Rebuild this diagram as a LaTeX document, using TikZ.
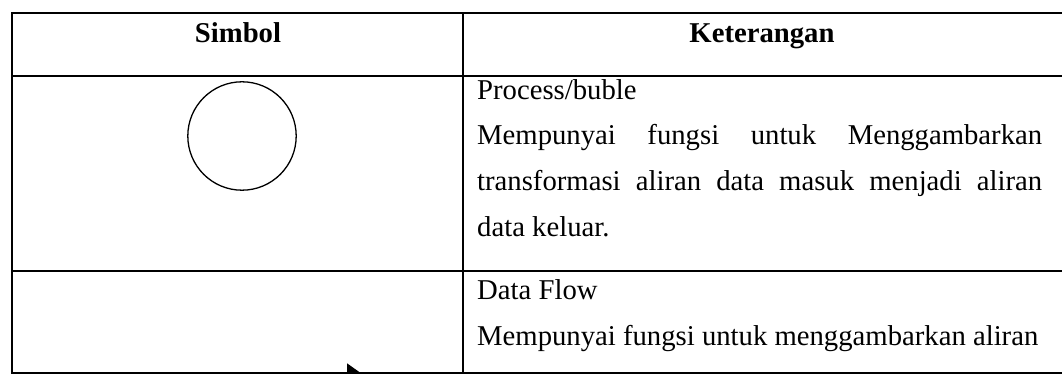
\documentclass[tikz,border=0pt]{standalone}
\usepackage{fontspec}
\setmainfont{Liberation Serif}
\usetikzlibrary{arrows.meta}
\tikzset{
  rule/.style={line width=1.8pt, line cap=rect},
  txt/.style={anchor=base west, inner sep=0pt, font=\fontsize{28.7}{46}\selectfont},
  head/.style={anchor=base, inner sep=0pt, font=\fontsize{28.7}{46}\selectfont\bfseries},
  sym/.style={draw, line width=1.3pt, circle, inner sep=0pt, minimum size=108.4pt},
  flow/.style={line width=1.8pt, -{Triangle[length=13pt,width=18pt]}}
}
\newcommand{\jline}[1]{\makebox[565pt][s]{#1}}
\begin{document}
\begin{tikzpicture}[x=1pt,y=1pt]
\useasboundingbox (0,0) rectangle (1062,-374);
% table rules
\draw[rule] (12,-13) -- (1064,-13);
\draw[rule] (12,-76) -- (1064,-76);
\draw[rule] (12,-270.7) -- (1064,-270.7);
\draw[rule] (12,-372.7) -- (1064,-372.7);
\draw[rule] (12,-13) -- (12,-372.7);
\draw[rule] (463,-13) -- (463,-372.7);
% header
\node[head] (h1) at (238,-43) {Simbol};
\node[head] (h2) at (762,-43) {Keterangan};
% row 1
\node[sym] (proc) at (242,-136) {};
\node[txt] (a1) at (477,-99.5) {Process/buble};
\node[txt] (a2) at (477,-145) {\jline{Mempunyai fungsi untuk Menggambarkan}};
\node[txt] (a3) at (477,-190.5) {\jline{transformasi aliran data masuk menjadi aliran}};
\node[txt] (a4) at (477,-236) {data keluar.};
% row 2
\coordinate (fs) at (111,-372.5);
\coordinate (fe) at (360,-372.5);
\draw[flow] (fs) -- (fe);
\node[txt] (b1) at (477,-299.5) {Data Flow};
\node[txt] (b2) at (477,-345) {Mempunyai fungsi untuk menggambarkan aliran};
\end{tikzpicture}
\end{document}
